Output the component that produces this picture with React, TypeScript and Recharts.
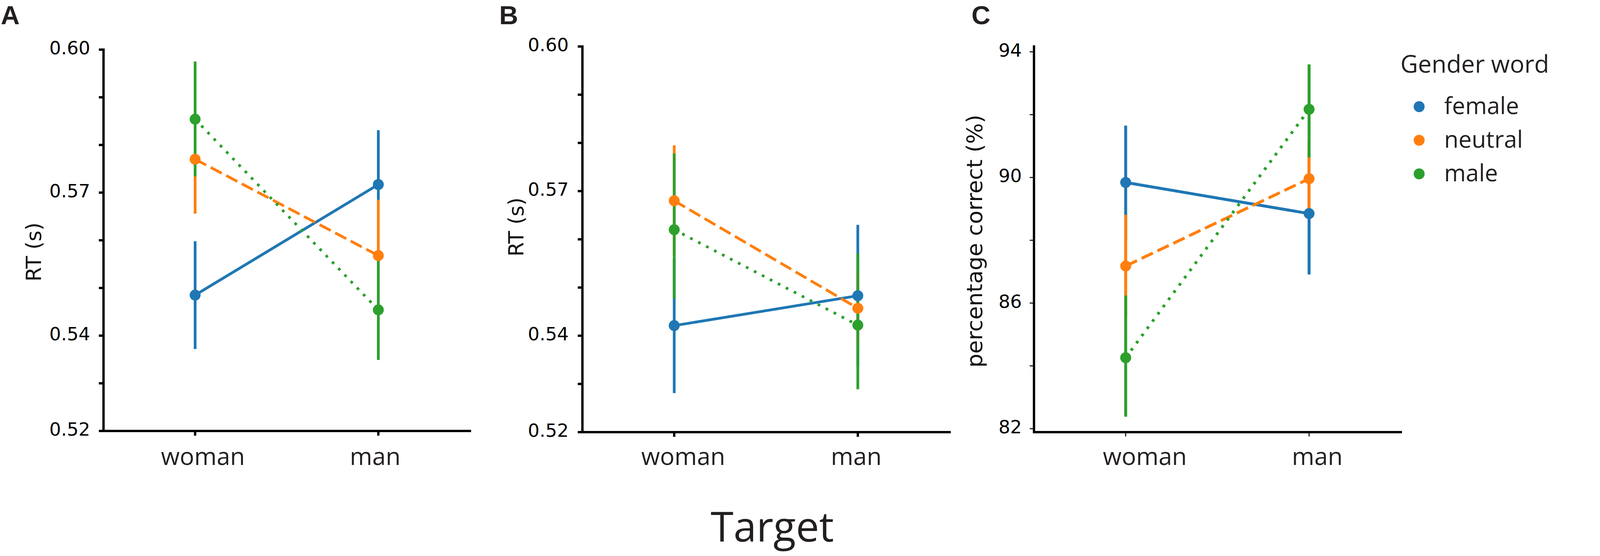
import React from 'react';
import { LineChart, Line, XAxis, YAxis, ErrorBar } from 'recharts';

// ---------- data ----------
const targets = ['woman', 'man'];
const seriesNames = ['female', 'neutral', 'male'];
const seriesColors = ['#1f77b4', '#ff7f0e', '#2ca02c'];
const seriesDash = ['', '32 13', '7 16'];

// Panel A: RT (s)
const aFemale = [0.5485, 0.5717];
const aNeutral = [0.577, 0.5568];
const aMale = [0.5854, 0.5454];
const aFemaleCI = [[0.5372, 0.5598], [0.5603, 0.5831]];
const aNeutralCI = [[0.5656, 0.5886], [0.5451, 0.5685]];
const aMaleCI = [[0.5734, 0.5975], [0.5349, 0.5559]];

// Panel B: RT (s)
const bFemale = [0.5421, 0.5483];
const bNeutral = [0.568, 0.5457];
const bMale = [0.562, 0.5422];
const bFemaleCI = [[0.5281, 0.556], [0.5335, 0.563]];
const bNeutralCI = [[0.5566, 0.5795], [0.5377, 0.5537]];
const bMaleCI = [[0.5477, 0.5778], [0.5289, 0.557]];

// Panel C: percentage correct (%)
const cFemale = [89.84, 88.85];
const cNeutral = [87.18, 89.96];
const cMale = [84.26, 92.17];
const cFemaleCI = [[88.03, 91.65], [86.91, 90.79]];
const cNeutralCI = [[85.55, 88.81], [88.75, 91.2]];
const cMaleCI = [[82.38, 86.24], [90.64, 93.6]];

// axes
const rtDomain = [0.52, 0.6];
const rtTicks = [0.52, 0.53, 0.54, 0.55, 0.56, 0.57, 0.58, 0.59, 0.6];
const rtTickLabels = ['0.52', '', '0.54', '', '', '0.57', '', '', '0.60'];
const pcDomain = [81.89, 94.17];
const pcTicks = [82, 84, 86, 88, 90, 92, 94];
const pcTickLabels = ['82', '', '86', '', '90', '', '94'];

const panelLetters = ['A', 'B', 'C'];
const rtLabel = 'RT (s)';
const pcLabel = 'percentage correct (%)';
const xTitle = 'Target';
const legendTitle = 'Gender word';

function buildRows(means: number[][], cis: number[][][]) {
  return targets.map((t, i) => {
    const row: any = { target: t };
    seriesNames.forEach((s, j) => {
      const m = means[j][i];
      row[s] = m;
      row[s + 'Err'] = [m - cis[j][i][0], cis[j][i][1] - m];
    });
    return row;
  });
}

const rowsA = buildRows([aFemale, aNeutral, aMale], [aFemaleCI, aNeutralCI, aMaleCI]);
const rowsB = buildRows([bFemale, bNeutral, bMale], [bFemaleCI, bNeutralCI, bMaleCI]);
const rowsC = buildRows([cFemale, cNeutral, cMale], [cFemaleCI, cNeutralCI, cMaleCI]);

const TEXT_DARK = '#231f20';

type PanelProps = {
  left: number;
  yAxisWidth: number;
  plotWidth: number;
  rightMargin: number;
  top: number;
  bottomMargin: number;
  domain: number[];
  ticks: number[];
  tickLabels: string[];
  rows: any[];
  tickStroke: number;
  tickSize: number;
  yTickMargin: number;
  xShift: number[];
  xLabelDy: number;
  lineWidth: number;
};

const Panel = (p: PanelProps) => {
  const width = p.yAxisWidth + p.plotWidth + p.rightMargin;
  const pad = p.plotWidth / 4;
  const YTick = (tp: any) => {
    const v = tp.payload.value;
    const idx = p.ticks.findIndex((t) => Math.abs(t - v) < 1e-9);
    const label = idx >= 0 ? p.tickLabels[idx] : '';
    return (
      <text x={tp.x} y={tp.y + 12} textAnchor="end" fontFamily="DejaVu Sans" fontSize={47} fill="#000">
        {label}
      </text>
    );
  };
  const XTick = (tp: any) => {
    const idx = targets.indexOf(tp.payload.value);
    return (
      <text
        x={tp.x + (p.xShift[idx] || 0)}
        y={tp.y + p.xLabelDy}
        textAnchor="middle"
        fontFamily="Open Sans"
        fontSize={62}
        fill={TEXT_DARK}
      >
        {tp.payload.value}
      </text>
    );
  };
  return (
    <div style={{ position: 'absolute', left: p.left, top: 0 }}>
      <LineChart
        width={width}
        height={1300}
        data={p.rows}
        margin={{ top: p.top, right: p.rightMargin, bottom: p.bottomMargin, left: 0 }}
      >
        <XAxis
          dataKey="target"
          type="category"
          padding={{ left: pad, right: pad }}
          height={120}
          interval={0}
          tickSize={p.tickSize}
          tickMargin={0}
          axisLine={{ stroke: '#000', strokeWidth: 6, strokeLinecap: 'square' }}
          tickLine={{ stroke: '#000', strokeWidth: p.tickStroke }}
          tick={XTick}
        />
        <YAxis
          type="number"
          domain={p.domain}
          ticks={p.ticks}
          allowDataOverflow
          interval={0}
          width={p.yAxisWidth}
          tickSize={p.tickSize}
          tickMargin={p.yTickMargin}
          axisLine={{ stroke: '#000', strokeWidth: 6, strokeLinecap: 'square' }}
          tickLine={{ stroke: '#000', strokeWidth: p.tickStroke }}
          tick={YTick}
        />
        {seriesNames.map((name, j) => (
          <Line
            key={name}
            type="linear"
            dataKey={name}
            stroke={seriesColors[j]}
            strokeWidth={p.lineWidth}
            strokeDasharray={seriesDash[j] || undefined}
            dot={{ r: 14, fill: seriesColors[j], stroke: seriesColors[j], strokeWidth: 0 }}
            activeDot={false}
            isAnimationActive={false}
          >
            <ErrorBar
              dataKey={name + 'Err'}
              width={0}
              stroke={seriesColors[j]}
              strokeWidth={p.lineWidth}
              direction="y"
              isAnimationActive={false}
            />
          </Line>
        ))}
      </LineChart>
    </div>
  );
};

const Overlay = () => (
  <svg
    width={4214}
    height={1423}
    style={{ position: 'absolute', left: 0, top: 0, pointerEvents: 'none' }}
  >
    {/* panel letters */}
    <text x={2} y={62} fontFamily="Liberation Sans" fontWeight="bold" fontSize={67} fill={TEXT_DARK}>
      {panelLetters[0]}
    </text>
    <text x={1278} y={62} fontFamily="Liberation Sans" fontWeight="bold" fontSize={67} fill={TEXT_DARK}>
      {panelLetters[1]}
    </text>
    <text x={2487} y={62} fontFamily="Liberation Sans" fontWeight="bold" fontSize={67} fill={TEXT_DARK}>
      {panelLetters[2]}
    </text>

    {/* y-axis titles */}
    <text
      x={105}
      y={645}
      transform="rotate(-90 105 645)"
      textAnchor="middle"
      fontFamily="DejaVu Sans"
      fontSize={53}
      fill="#111"
    >
      {rtLabel}
    </text>
    <text
      x={1340}
      y={581}
      transform="rotate(-90 1340 581)"
      textAnchor="middle"
      fontFamily="DejaVu Sans"
      fontSize={53}
      fill="#111"
    >
      {rtLabel}
    </text>
    <text
      x={2514}
      y={617}
      transform="rotate(-90 2514 617)"
      textAnchor="middle"
      fontFamily="DejaVu Sans"
      fontSize={56}
      fill="#111"
    >
      {pcLabel}
    </text>

    {/* shared x title */}
    <text x={1977} y={1386} textAnchor="middle" fontFamily="Open Sans" fontSize={106} fill={TEXT_DARK}>
      {xTitle}
    </text>

    {/* legend */}
    <text x={3585} y={186} fontFamily="Open Sans" fontSize={62} fill={TEXT_DARK}>
      {legendTitle}
    </text>
    {seriesNames.map((name, j) => (
      <g key={name}>
        <circle cx={3633} cy={273 + j * 86} r={14} fill={seriesColors[j]} />
        <text x={3697} y={292 + j * 86} fontFamily="Open Sans" fontSize={60} fill={TEXT_DARK}>
          {name}
        </text>
      </g>
    ))}
  </svg>
);

export default function App() {
  return (
    <div style={{ position: 'absolute', left: 0, top: 0, width: 4214, height: 1423, background: '#fff' }}>
      <Panel
        left={0}
        yAxisWidth={265}
        plotWidth={938}
        rightMargin={27}
        top={127}
        bottomMargin={77}
        domain={rtDomain}
        ticks={rtTicks}
        tickLabels={rtTickLabels}
        rows={rowsA}
        tickStroke={6}
        tickSize={12}
        yTickMargin={22}
        xShift={[20, -8]}
        xLabelDy={75}
        lineWidth={7}
      />
      <Panel
        left={1250}
        yAxisWidth={241}
        plotWidth={940}
        rightMargin={29}
        top={119}
        bottomMargin={74}
        domain={rtDomain}
        ticks={rtTicks}
        tickLabels={rtTickLabels}
        rows={rowsB}
        tickStroke={6}
        tickSize={12}
        yTickMargin={23}
        xShift={[23, -4]}
        xLabelDy={72}
        lineWidth={7}
      />
      <Panel
        left={2400}
        yAxisWidth={247}
        plotWidth={939}
        rightMargin={34}
        top={119}
        bottomMargin={74}
        domain={pcDomain}
        ticks={pcTicks}
        tickLabels={pcTickLabels}
        rows={rowsC}
        tickStroke={2.5}
        tickSize={11}
        yTickMargin={20}
        xShift={[49, 21]}
        xLabelDy={73}
        lineWidth={7.5}
      />
      <Overlay />
    </div>
  );
}
